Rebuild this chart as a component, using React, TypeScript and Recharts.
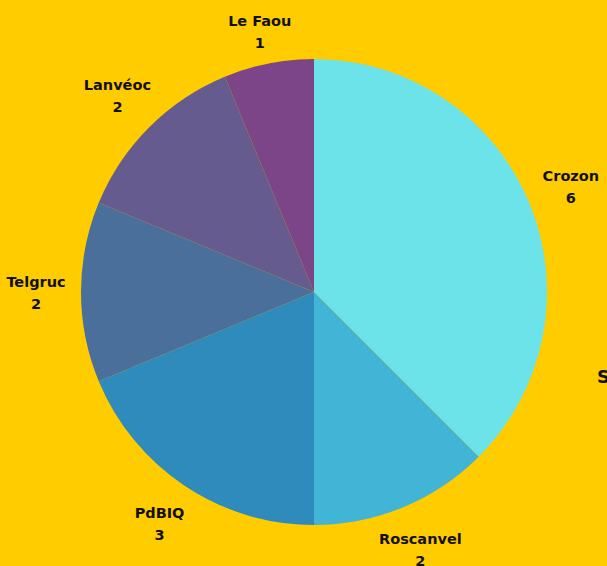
import React from "react";
import { PieChart, Pie, Cell } from "recharts";

const communes = ["Crozon", "Roscanvel", "PdBIQ", "Telgruc", "Lanvéoc", "Le Faou"];
const counts = [6, 2, 3, 2, 2, 1];
const colors = ["#6BE3E8", "#42B4D6", "#2E8BBC", "#4A6F9B", "#655B8E", "#7C4587"];
const sideText = "S";

const data = communes.map((name, i) => ({ name, value: counts[i] }));

const RAD = Math.PI / 180;

const renderLabel = (props: any) => {
  const { cx, cy, midAngle, index } = props;
  const r = 278;
  const x = cx + r * Math.cos(-midAngle * RAD);
  let y = cy + r * Math.sin(-midAngle * RAD);
  y = Math.max(y, 31);
  return (
    <text
      x={x}
      y={y}
      textAnchor="middle"
      fill="#111"
      fontFamily="DejaVu Sans, sans-serif"
      fontWeight="bold"
      fontSize={14.5}
    >
      <tspan x={x} y={y - 5}>{communes[index]}</tspan>
      <tspan x={x} y={y + 17}>{counts[index]}</tspan>
    </text>
  );
};

export default function App() {
  return (
    <div style={{ position: "absolute", left: 0, top: 0, width: 607, height: 566, background: "#FFCC00", overflow: "hidden" }}>
      <style>{`body{margin:0;background:#FFCC00;}`}</style>
      <PieChart width={607} height={566} margin={{ top: 0, right: 0, bottom: 0, left: 0 }}>
        <Pie
          data={data}
          dataKey="value"
          nameKey="name"
          cx={314}
          cy={292}
          outerRadius={233}
          startAngle={90}
          endAngle={-270}
          stroke="none"
          label={renderLabel}
          labelLine={false}
          isAnimationActive={false}
        >
          {data.map((d, i) => (
            <Cell key={d.name} fill={colors[i]} />
          ))}
        </Pie>
        <text x={597} y={383} fill="#111" fontFamily="DejaVu Sans, sans-serif" fontWeight="bold" fontSize={18}>
          {sideText}
        </text>
      </PieChart>
    </div>
  );
}
